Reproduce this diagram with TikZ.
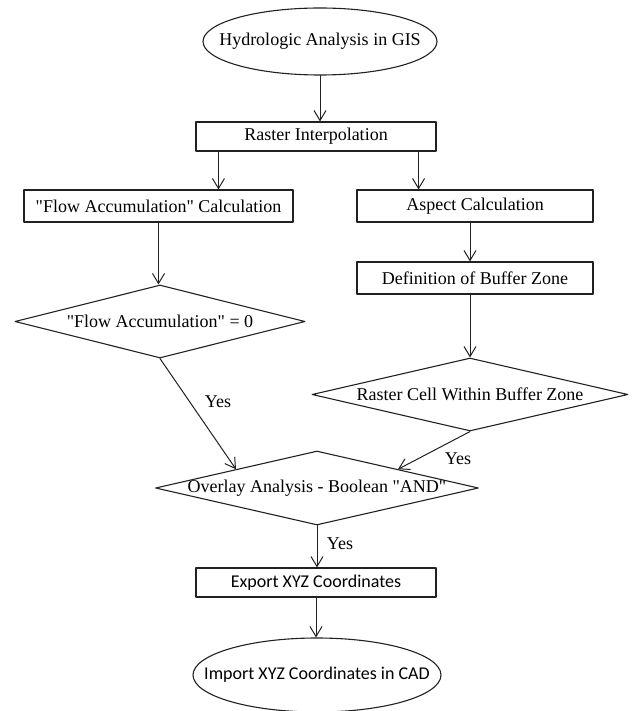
\documentclass[tikz,border=0pt]{standalone}
\usepackage{fontspec}
\newfontfamily\timesfont{Liberation Serif}
\newfontfamily\calibrifont{Carlito}
\usepackage{tikz}
\usetikzlibrary{arrows.meta,shapes.geometric}
\definecolor{sqsqsq}{rgb}{0.13,0.13,0.13}
\begin{document}
\begin{tikzpicture}[line cap=round,line join=round,x=1pt,y=-1pt,
  >={Straight Barb[length=10pt,width=12pt]},
  every node/.style={font=\timesfont\fontsize{18}{21}\selectfont,text=black},
  procbox/.style={draw=sqsqsq,line width=1.1pt,rectangle,inner sep=0pt},
  decision/.style={draw=sqsqsq,line width=1.1pt,diamond,inner xsep=-8pt,inner ysep=0pt},
  terminal/.style={draw=sqsqsq,line width=1.1pt,ellipse,inner xsep=-26pt,inner ysep=0pt},
  flowline/.style={->,draw=sqsqsq,line width=1pt}]
  \useasboundingbox (0,0) rectangle (631,711);
  \node[terminal,minimum width=234pt,minimum height=67pt] (hydro) at (320,41.5) {Hydrologic Analysis in GIS};
  \node[procbox,minimum width=240pt,minimum height=29pt] (raster) at (316,136.5) {Raster Interpolation};
  \node[procbox,minimum width=269pt,minimum height=32pt] (flow) at (158.5,206) {"Flow Accumulation" Calculation};
  \node[procbox,minimum width=236pt,minimum height=32pt] (aspectcalc) at (475,206) {Aspect Calculation};
  \node[procbox,minimum width=236pt,minimum height=32pt] (buffer) at (475,278) {Definition of Buffer Zone};
  \node[decision,aspect=3.97,minimum width=290pt,minimum height=73pt] (flowzero) at (160,321.5) {"Flow Accumulation" = 0};
  \node[decision,aspect=4.33,minimum width=316pt,minimum height=73pt] (incell) at (470,394.5) {Raster Cell Within Buffer Zone};
  \node[decision,aspect=4.36,minimum width=323pt,minimum height=74pt] (overlay) at (317,488) {Overlay Analysis - Boolean "AND"};
  \node[procbox,minimum width=240pt,minimum height=29pt,font=\calibrifont\fontsize{18}{21}\selectfont] (export) at (316,582.5) {Export XYZ Coordinates};
  \node[terminal,minimum width=248pt,minimum height=74pt,font=\calibrifont\fontsize{18}{21}\selectfont] (import) at (317,675) {Import XYZ Coordinates in CAD};
  \coordinate (forkleft) at ([xshift=23pt]raster.south west);
  \coordinate (forkright) at ([xshift=-18pt]raster.south east);
  \draw[flowline] (hydro.south) -- (hydro.south |- raster.north);
  \draw[flowline] (forkleft) -- (forkleft |- flow.north);
  \draw[flowline] (forkright) -- (forkright |- aspectcalc.north);
  \draw[flowline] (flow.south) -- (flow.south |- flowzero.north);
  \draw[flowline] (aspectcalc.south -| incell.north) -- (buffer.north -| incell.north);
  \draw[flowline] (buffer.south -| incell.north) -- (incell.north);
  \draw[flowline] (flowzero.south) -- (overlay.north west);
  \draw[flowline] (incell.south) -- (overlay.north east);
  \draw[flowline] (overlay.south) -- (export.north -| overlay.south);
  \draw[flowline] (export.south) -- (export.south |- import.north);
  \node (yesleft) at (218,402) {Yes};
  \node (yesright) at (458,459) {Yes};
  \node (yesdown) at (340,544) {Yes};
\end{tikzpicture}
\end{document}
